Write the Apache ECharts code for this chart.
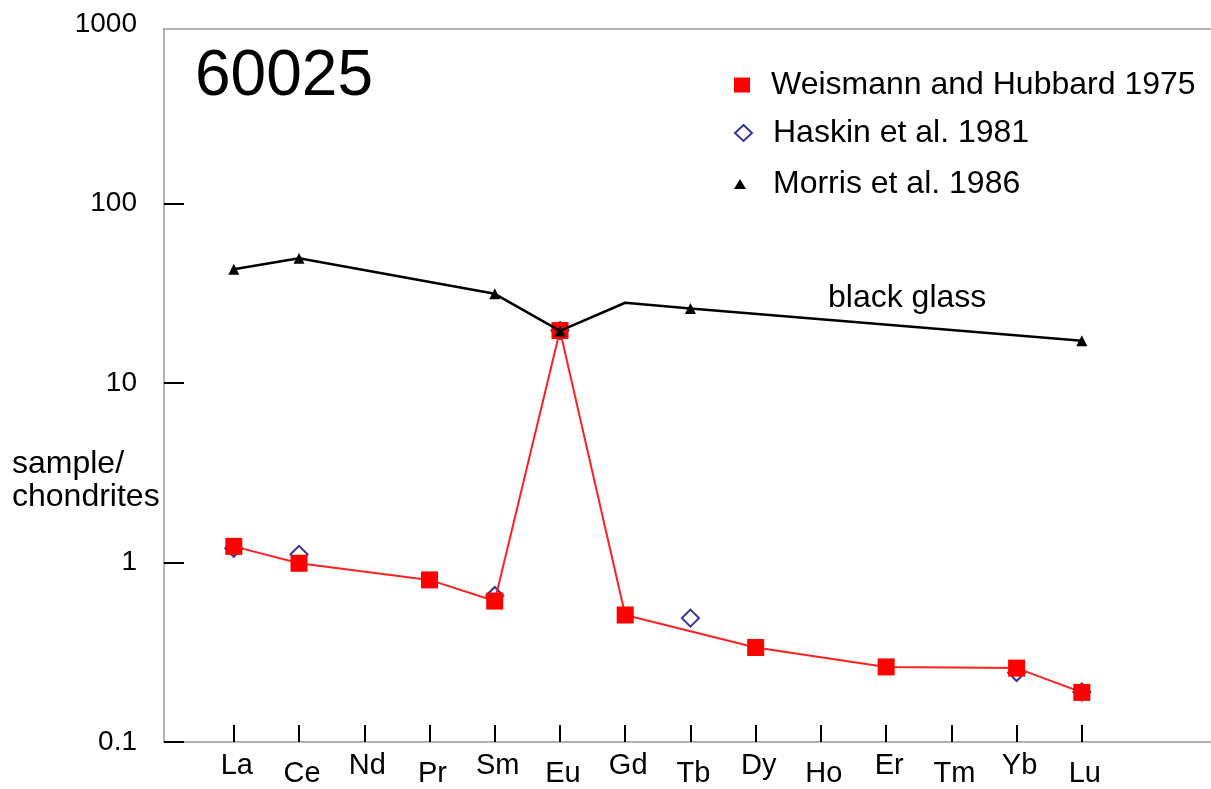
<!DOCTYPE html>
<html>
<head>
<meta charset="utf-8">
<script src="https://cdn.jsdelivr.net/npm/echarts@6/dist/echarts.min.js"></script>
<style>html,body{margin:0;padding:0;background:#fff;}#c{width:1211px;height:789px;}</style>
</head>
<body>
<div id="c"></div>
<script>
const elements = ['La','Ce','Nd','Pr','Sm','Eu','Gd','Tb','Dy','Ho','Er','Tm','Yb','Lu'];
const yTickValues = [0.1, 1, 10, 100];

const weismannEls = ['La','Ce','Pr','Sm','Eu','Gd','Dy','Er','Yb','Lu'];
const weismannVals = [1.23, 0.99, 0.80, 0.61, 19.6, 0.51, 0.336, 0.262, 0.258, 0.189];

const haskinEls = ['La','Ce','Sm','Eu','Tb','Yb','Lu'];
const haskinVals = [1.20, 1.11, 0.655, 19.6, 0.49, 0.244, 0.19];

const morrisEls = ['La','Ce','Sm','Eu','Gd','Tb','Lu'];
const morrisVals = [43, 49.5, 31.4, 19.5, 28, 26, 17.2];
const morrisNoMarker = ['Gd'];

const FONT = 'Liberation Sans, Arial, sans-serif';
const pos = el => elements.indexOf(el) + 1;
const tickPositions = elements.map((e, i) => i + 1);

const weismannData = weismannEls.map((e, i) => [pos(e), weismannVals[i]]);
const haskinData = haskinEls.map((e, i) => [pos(e), haskinVals[i]]);
const morrisData = morrisEls.map((e, i) => morrisNoMarker.includes(e)
  ? { value: [pos(e), morrisVals[i]], symbol: 'none' }
  : [pos(e), morrisVals[i]]);

const chart = echarts.init(document.getElementById('c'));
const legendBase = {
  orient: 'vertical', left: 734, padding: 0, itemGap: 0,
  itemWidth: 17, itemHeight: 16,
  textStyle: { fontFamily: FONT, fontSize: 32, color: '#000', padding: [0, 0, 0, 16], lineHeight: 34 },
  selectedMode: false
};
const frameLine = { show: true, onZero: false, lineStyle: { color: '#999', width: 1.5 } };
chart.setOption({
  animation: false,
  backgroundColor: '#fff',
  grid: [
    { left: 164, right: 0, top: 24, bottom: 47, containLabel: false },
    { left: 164, right: 0, top: 29, bottom: 47, containLabel: false }
  ],
  legend: [
    Object.assign({}, legendBase, { data: [{ name: 'Weismann and Hubbard 1975', icon: 'rect' }], top: 68, itemWidth: 16, itemHeight: 15 }),
    Object.assign({}, legendBase, { data: [{ name: 'Haskin et al. 1981', icon: 'diamond' }], top: 116, itemWidth: 17, itemHeight: 16 }),
    Object.assign({}, legendBase, { data: [{ name: 'Morris et al. 1986', icon: 'triangle' }], top: 167, itemWidth: 12, itemHeight: 10,
      textStyle: Object.assign({}, legendBase.textStyle, { padding: [0, 0, 0, 22] }) })
  ],
  xAxis: [{
    gridIndex: 0, type: 'value', min: -0.07, max: 15.98, position: 'bottom',
    axisLine: frameLine,
    axisTick: { show: true, inside: true, length: 17, lineStyle: { color: '#000', width: 2 }, customValues: tickPositions },
    splitLine: { show: false },
    axisLabel: {
      show: true, customValues: tickPositions, margin: 9,
      fontFamily: FONT, fontSize: 29, color: '#000',
      formatter: v => {
        const i = Math.round(v) - 1;
        return (i % 2 === 0 ? '{a|' : '{b|') + elements[i] + '}';
      },
      rich: {
        a: { fontFamily: FONT, fontSize: 29, color: '#000', padding: [0, 0, 0, 6] },
        b: { fontFamily: FONT, fontSize: 29, color: '#000', padding: [8, 0, 0, 6] }
      }
    }
  }, {
    gridIndex: 1, type: 'value', min: 0, max: 1, position: 'top',
    axisLine: frameLine,
    axisTick: { show: false }, axisLabel: { show: false }, splitLine: { show: false }
  }],
  yAxis: [{
    gridIndex: 0, type: 'log', logBase: 10, min: 0.1, max: 1000, interval: 1,
    axisLine: { show: false, onZero: false },
    axisTick: { show: true, inside: true, length: 20, lineStyle: { color: '#000', width: 2 }, customValues: yTickValues },
    minorTick: { show: false },
    splitLine: { show: false },
    axisLabel: {
      margin: 27, fontFamily: FONT, fontSize: 28, color: '#000',
      formatter: v => String(parseFloat(Number(v).toPrecision(6)))
    }
  }, {
    gridIndex: 1, type: 'value', min: 0, max: 1, position: 'left',
    axisLine: frameLine,
    axisTick: { show: false }, axisLabel: { show: false }, splitLine: { show: false }
  }],
  series: [
    {
      name: 'Haskin et al. 1981', type: 'scatter', data: haskinData,
      symbol: 'diamond', symbolSize: [17, 17],
      itemStyle: { color: 'rgba(255,255,255,0)', borderColor: '#00007f', borderWidth: 2 },
      z: 2
    },
    {
      name: 'Weismann and Hubbard 1975', type: 'line', data: weismannData,
      symbol: 'rect', symbolSize: 17, showAllSymbol: true,
      lineStyle: { color: '#ff2020', width: 2 },
      itemStyle: { color: '#ff0000' },
      z: 3
    },
    {
      name: 'Morris et al. 1986', type: 'line', data: morrisData,
      symbol: 'triangle', symbolSize: 11, showAllSymbol: true,
      lineStyle: { color: '#000', width: 2.5 },
      itemStyle: { color: '#000' },
      z: 4
    }
  ],
  graphic: [
    { type: 'text', x: 195, y: 77, style: { text: '60025', font: '64px ' + FONT, fill: '#000', verticalAlign: 'middle' } },
    { type: 'text', x: 828, y: 298, style: { text: 'black glass', font: '32px ' + FONT, fill: '#000', verticalAlign: 'middle' } },
    { type: 'text', x: 12, y: 448, style: { text: 'sample/\nchondrites', font: '32px ' + FONT, fill: '#000', lineHeight: 33, verticalAlign: 'top' } }
  ]
});
</script>
</body>
</html>
